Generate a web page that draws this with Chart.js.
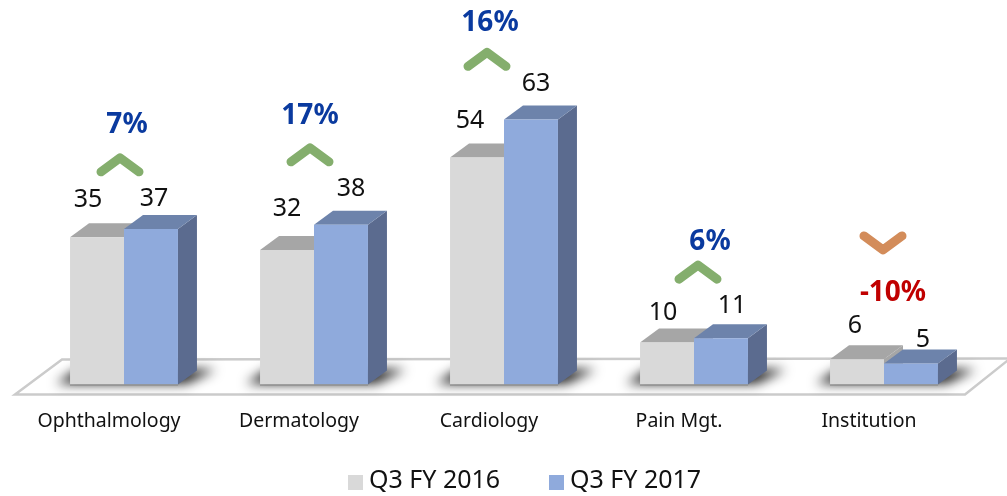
<!DOCTYPE html>
<html><head><meta charset="utf-8">
<style>html,body{margin:0;padding:0;background:#fff}#w{width:1007px;height:496px;position:relative}</style>
<script src="https://cdn.jsdelivr.net/npm/chart.js@4"></script></head>
<body><div id="w"><canvas id="c"></canvas></div>
<script>
const categories = ['Ophthalmology','Dermatology','Cardiology','Pain Mgt.','Institution'];
const seriesNames = ['Q3 FY 2016','Q3 FY 2017'];
const q3fy2016 = [35,32,54,10,6];
const q3fy2017 = [37,38,63,11,5];
const growthLabels = ['7%','17%','16%','6%','-10%'];
const growthDirection = ['up','up','up','up','down'];
// placement of the hand-set annotations, as in the slide
const growthLevel = [61.8,63.9,85.9,33.9,21.7];
const growthDx = [3,-4,-14,16,9];
const chevronLevel = [53.9,56.3,79,28.4,32];
const chevronDx = [-4,-4,-17,4,-1];
const label16Dx = [-9,0,-7,-4,-2];
const label16Dy = [37,41,37,30,33];
const label17Dx = [3,10,5,11,12];
const label17Dy = [30,36,36,32,24];
const FONT = '"Noto Sans"';
const DX = 19, DY = 14;
const sideCols = [{top:'#a6a6a6',side:'#a6a6a6'},{top:'#6d83ab',side:'#5b6b8f'}];
const legendX = [348,549];

function poly(ctx, pts, fill){ctx.beginPath();pts.forEach((p,i)=>i?ctx.lineTo(p[0],p[1]):ctx.moveTo(p[0],p[1]));ctx.closePath();ctx.fillStyle=fill;ctx.fill();}

const scene = {
  id:'scene',
  beforeDatasetsDraw(chart){
    const ctx = chart.ctx, y0 = chart.scales.y.getPixelForValue(0);
    ctx.save();
    ctx.beginPath();ctx.moveTo(15,y0+10);ctx.lineTo(965,y0+10);ctx.lineTo(1010,y0-26);ctx.lineTo(62,y0-25);ctx.closePath();
    ctx.fillStyle='#fff';ctx.fill();ctx.strokeStyle='#cbcbcb';ctx.lineWidth=2.5;ctx.stroke();
    const m0 = chart.getDatasetMeta(0).data, m1 = chart.getDatasetMeta(1).data;
    m0.forEach((b,i)=>{
      const l=b.x-b.width/2, r=m1[i].x+m1[i].width/2;
      ctx.save();ctx.filter='blur(6px)';
      poly(ctx,[[l-14,y0-1],[r+8,y0-1],[r+38,y0-15],[l+8,y0-15]],'rgba(10,10,10,0.95)');
      ctx.restore();
    });
    [m0,m1].forEach((meta,d)=>{
      meta.forEach(b=>{
        const l=b.x-b.width/2, r=b.x+b.width/2, t=b.y;
        poly(ctx,[[r,t],[r+DX,t-DY],[r+DX,y0-DY],[r,y0]],sideCols[d].side);
        poly(ctx,[[l,t],[l+DX,t-DY],[r+DX,t-DY],[r,t]],sideCols[d].top);
      });
    });
    ctx.restore();
  },
  afterDatasetsDraw(chart){
    const ctx = chart.ctx, ys = chart.scales.y, xs = chart.scales.x, y0 = ys.getPixelForValue(0);
    const m0 = chart.getDatasetMeta(0).data, m1 = chart.getDatasetMeta(1).data;
    ctx.save();
    ctx.textAlign='center';ctx.textBaseline='middle';
    ctx.font='25px '+FONT;ctx.fillStyle='#111';
    m0.forEach((b,i)=>ctx.fillText(String(q3fy2016[i]),b.x+label16Dx[i],b.y-label16Dy[i]));
    m1.forEach((b,i)=>ctx.fillText(String(q3fy2017[i]),b.x+label17Dx[i],b.y-label17Dy[i]));
    ctx.strokeStyle='#8a8a8a';ctx.lineWidth=1;
    m0.forEach((b,i)=>{ctx.beginPath();ctx.moveTo(b.x-b.width/2,y0+.5);ctx.lineTo(m1[i].x+m1[i].width/2,y0+.5);ctx.stroke();});
    categories.forEach((c,i)=>{
      const cx = xs.getPixelForValue(i), down = growthDirection[i]==='down';
      ctx.font='bold 28px '+FONT;
      ctx.fillStyle = down ? '#c00000' : '#0a3a9f';
      ctx.fillText(growthLabels[i],cx+growthDx[i],ys.getPixelForValue(growthLevel[i]));
      const ax = cx+chevronDx[i], ay = ys.getPixelForValue(chevronLevel[i]);
      ctx.beginPath();
      ctx.moveTo(ax-19,ay+(down?-14:14));ctx.lineTo(ax,ay);ctx.lineTo(ax+19,ay+(down?-14:14));
      ctx.strokeStyle = down ? '#d38c5a' : '#84ae6d';
      ctx.lineWidth=9;ctx.lineCap='round';ctx.lineJoin='round';ctx.stroke();
    });
    ctx.textAlign='left';ctx.font='25px '+FONT;
    chart.data.datasets.forEach((ds,i)=>{
      ctx.fillStyle=ds.backgroundColor;ctx.fillRect(legendX[i],475,15,15);
      ctx.fillStyle='#111';ctx.fillText(ds.label,legendX[i]+21,481);
    });
    ctx.restore();
  }
};

new Chart(document.getElementById('c'),{
  type:'bar',
  data:{labels:categories,datasets:[
    {label:seriesNames[0],data:q3fy2016,backgroundColor:'#d9d9d9',borderWidth:0},
    {label:seriesNames[1],data:q3fy2017,backgroundColor:'#8faadc',borderWidth:0}
  ]},
  options:{
    responsive:true,maintainAspectRatio:false,animation:false,
    layout:{padding:{left:29,right:28,top:6,bottom:46}},
    datasets:{bar:{categoryPercentage:0.568,barPercentage:1}},
    scales:{
      x:{grid:{display:false},border:{display:false},ticks:{color:'#111',font:{family:FONT,size:19.5},padding:17,labelOffset:-15,maxRotation:0}},
      y:{display:false,min:0,max:90}
    },
    plugins:{tooltip:{enabled:false},legend:{display:false}}
  },
  plugins:[scene]
});
</script></body></html>
